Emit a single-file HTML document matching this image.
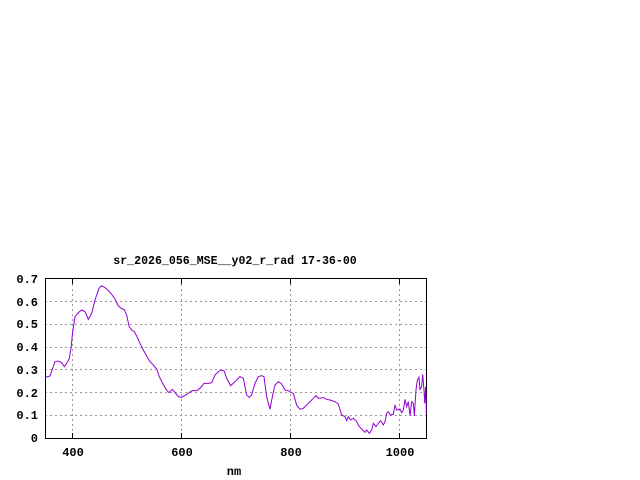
<!DOCTYPE html>
<html><head><style>
html,body{margin:0;padding:0;background:#fff;width:640px;height:480px;overflow:hidden}
svg{display:block}
text{font-family:"Liberation Mono","DejaVu Sans Mono",monospace;font-weight:bold;font-size:12px;fill:#000}
</style></head><body>
<svg width="640" height="480" viewBox="0 0 640 480" xmlns="http://www.w3.org/2000/svg">
<g stroke="#999" stroke-width="1" stroke-dasharray="2,3" fill="none">
<line x1="45" y1="415.5" x2="426" y2="415.5"/>
<line x1="45" y1="392.5" x2="426" y2="392.5"/>
<line x1="45" y1="369.5" x2="426" y2="369.5"/>
<line x1="45" y1="347.5" x2="426" y2="347.5"/>
<line x1="45" y1="324.5" x2="426" y2="324.5"/>
<line x1="45" y1="301.5" x2="426" y2="301.5"/>
<line x1="72.5" y1="279" x2="72.5" y2="438"/>
<line x1="181.5" y1="279" x2="181.5" y2="438"/>
<line x1="290.5" y1="279" x2="290.5" y2="438"/>
<line x1="399.5" y1="279" x2="399.5" y2="438"/>
</g>
<rect x="45.5" y="278.5" width="381" height="160" fill="none" stroke="#000" stroke-width="1"/>
<g stroke="#000" stroke-width="1">
<line x1="72.5" y1="438" x2="72.5" y2="433"/><line x1="181.5" y1="438" x2="181.5" y2="433"/>
<line x1="290.5" y1="438" x2="290.5" y2="433"/><line x1="399.5" y1="438" x2="399.5" y2="433"/>
<line x1="72.5" y1="279" x2="72.5" y2="284"/><line x1="181.5" y1="279" x2="181.5" y2="284"/>
<line x1="290.5" y1="279" x2="290.5" y2="284"/><line x1="399.5" y1="279" x2="399.5" y2="284"/>
</g>
<g fill="none" stroke="#9400d3" stroke-width="3">
<polyline transform="translate(0,250) scale(0.3333333)" points="135,382 150,378 165,335 175,333 185,338 193,350 200,340 208,325 213,295 218,245 225,200 235,188 245,180 255,185 265,208 275,190 285,150 297,115 305,107 315,113 325,122 335,133 345,147 355,168 365,176 372,178 380,195 387,228 395,240 403,245 410,258 420,280 430,300 440,318 450,335 460,345 470,357 478,380 488,400 498,418 507,428 517,418 527,430 535,440 545,442 560,433 577,422 590,422 600,415 612,400 625,400 635,398 645,375 655,365 660,362"/>
<polyline transform="translate(220,250) scale(0.3333333)" points="0,360 12,362 20,385 32,407 45,395 60,380 70,385 80,435 88,442 95,435 105,400 115,380 125,377 132,380 140,440 150,478 158,435 165,405 175,395 185,402 195,420 205,422 215,428 220,430 230,465 240,478 250,475 265,460 280,445 288,437 295,445 310,443 320,448 330,450 345,455 355,462 365,495 375,500 380,512 385,500 392,510 400,505 408,512 418,530 428,540 435,547 440,540 448,550 455,540 460,520 468,530 475,520 482,512 490,525 495,515 500,490 505,485 512,495 520,493 525,465 530,480 540,477 545,488 550,480 555,448 560,470 565,455 570,497 575,455 580,460 583,498 588,420 592,390 597,382 600,418 605,410 608,373 612,420 614,460 617,410 619,490"/>
</g>
<g text-anchor="end">
<text x="38" y="442">0</text>
<text x="38" y="419">0.1</text>
<text x="38" y="397">0.2</text>
<text x="38" y="374">0.3</text>
<text x="38" y="351">0.4</text>
<text x="38" y="328">0.5</text>
<text x="38" y="306">0.6</text>
<text x="38" y="283">0.7</text>
</g>
<g text-anchor="middle">
<text x="73" y="456">400</text>
<text x="182" y="456">600</text>
<text x="291" y="456">800</text>
<text x="400" y="456">1000</text>
<text x="234" y="475">nm</text>
<text x="235" y="264" style="font-size:11.6px">sr_2026_056_MSE__y02_r_rad 17-36-00</text>
</g>
</svg>
</body></html>
